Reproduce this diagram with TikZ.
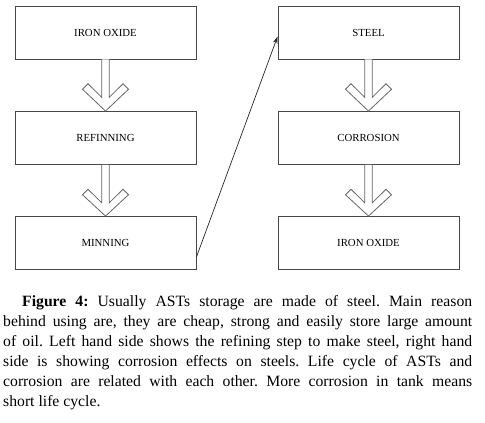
\documentclass[tikz,border=0pt]{standalone}
\usepackage{fontspec}
\setmainfont{Liberation Serif}
\usetikzlibrary{calc,arrows.meta}
\begin{document}
\begin{tikzpicture}[x=1pt,y=-1pt,
  box/.style={draw=black!72,line width=0.9pt,minimum width=181pt,minimum height=53pt,inner sep=0pt,
    font=\fontsize{10.8}{12}\selectfont},
  blockarrow/.style={draw=black!60,line width=0.8pt,fill=white,line join=miter},
  link/.style={draw=black!85,line width=0.7pt,-{Stealth[length=7pt,width=4.5pt]}}]
\useasboundingbox (0,0) rectangle (485,423);
\node[box] (l1) at (105.5,32.5) {IRON OXIDE};
\node[box] (l2) at (105.5,138) {REFINNING};
\node[box] (l3) at (105.5,243) {MINNING};
\node[box] (r1) at (368.5,32.5) {STEEL};
\node[box] (r2) at (368.5,138) {CORROSION};
\node[box] (r3) at (368.5,243) {IRON OXIDE};
\foreach \a/\b in {l1/l2,l2/l3,r1/r2,r2/r3}{
  \draw[blockarrow] ($(\a.south)+(-3.8,0)$) -- ($(\a.south)+(-3.8,37.8)$) -- ($(\a.south)+(-17.5,24.3)$)
    -- ($(\a.south)+(-23,29.8)$) -- (\b.north) -- ($(\a.south)+(23,29.8)$) -- ($(\a.south)+(17.5,24.3)$)
    -- ($(\a.south)+(3.8,37.8)$) -- ($(\a.south)+(3.8,0)$);
}
\draw[link] ($(l3.south east)+(0,-13)$) -- ($(r1.north west)+(0,31)$);
\node[anchor=base west,inner sep=0pt,text width=469pt,align=justify,
  font=\fontsize{15.7}{19.9}\selectfont\frenchspacing] (cap) at (3,306.5)
  {\hspace*{19pt}\textbf{Figure 4:} Usually ASTs storage are made of steel. Main reason\linebreak
  behind using are, they are cheap, strong and easily store large amount\linebreak
  of oil. Left hand side shows the refining step to make steel, right hand\linebreak
  side is showing corrosion effects on steels. Life cycle of ASTs and\linebreak
  corrosion are related with each other. More corrosion in tank means\linebreak
  short life cycle.};
\end{tikzpicture}
\end{document}
